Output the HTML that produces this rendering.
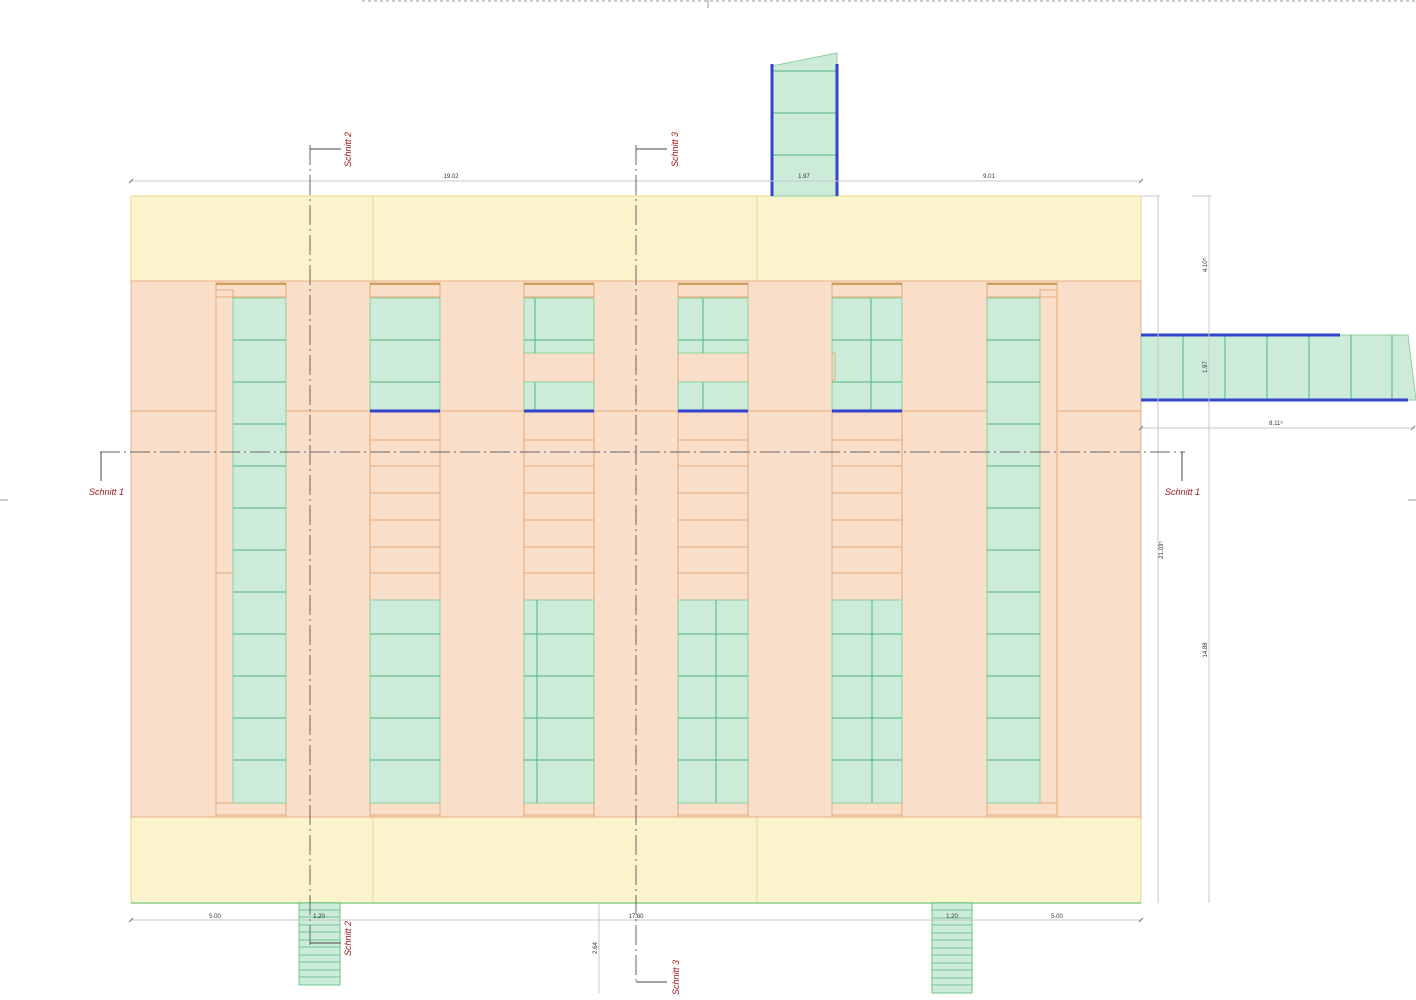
<!DOCTYPE html>
<html><head><meta charset="utf-8"><style>html,body{margin:0;padding:0;background:#fff}svg{display:block}</style></head><body>
<svg width="1416" height="1000" viewBox="0 0 1416 1000" xmlns="http://www.w3.org/2000/svg" font-family="Liberation Sans, sans-serif">
<line x1="362" y1="1" x2="1416" y2="1" stroke="#999" stroke-dasharray="3,3" stroke-width="1"/>
<line x1="708" y1="0" x2="708" y2="8" stroke="#999"/>
<line x1="0" y1="500" x2="8" y2="500" stroke="#999"/>
<line x1="1408" y1="500" x2="1416" y2="500" stroke="#999"/>

<g fill="#faf3cc" stroke="#ecd98a" stroke-width="1">
<rect x="131" y="196" width="1010" height="85"/>
<rect x="131" y="817" width="1010" height="86"/>
<line x1="373" y1="196" x2="373" y2="281"/><line x1="757" y1="196" x2="757" y2="281"/>
<line x1="373" y1="817" x2="373" y2="903"/><line x1="757" y1="817" x2="757" y2="903"/>
</g>
<line x1="131" y1="903" x2="1141" y2="903" stroke="#a9d9a0" stroke-width="2"/>
<rect x="131" y="281" width="1010" height="536" fill="#f9dfc9" stroke="#e8b088"/>
<line x1="131" y1="411" x2="1141" y2="411" stroke="#e8a878"/>

<g stroke="#e8a878" stroke-width="1" fill="#f9dfc9">
<rect x="216" y="283" width="70" height="534"/>
<rect x="370" y="283" width="70" height="534"/>
<rect x="524" y="283" width="70" height="534"/>
<rect x="678" y="283" width="70" height="534"/>
<rect x="832" y="283" width="70" height="534"/>
<rect x="987" y="283" width="70" height="534"/>
</g>
<g stroke="#c9a060" stroke-width="2">
<line x1="216" y1="284" x2="286" y2="284"/><line x1="370" y1="284" x2="440" y2="284"/><line x1="524" y1="284" x2="594" y2="284"/><line x1="678" y1="284" x2="748" y2="284"/><line x1="832" y1="284" x2="902" y2="284"/><line x1="987" y1="284" x2="1057" y2="284"/>
</g>
<g stroke="#e8a878" stroke-width="1">
<line x1="216" y1="297" x2="286" y2="297"/><line x1="370" y1="297" x2="440" y2="297"/><line x1="524" y1="297" x2="594" y2="297"/><line x1="678" y1="297" x2="748" y2="297"/><line x1="832" y1="297" x2="902" y2="297"/><line x1="987" y1="297" x2="1057" y2="297"/>
<line x1="216" y1="815" x2="286" y2="815"/><line x1="370" y1="815" x2="440" y2="815"/><line x1="524" y1="815" x2="594" y2="815"/><line x1="678" y1="815" x2="748" y2="815"/><line x1="832" y1="815" x2="902" y2="815"/><line x1="987" y1="815" x2="1057" y2="815"/>
<rect x="216" y="290" width="17" height="513" fill="none"/>
<line x1="216" y1="573" x2="233" y2="573"/>
<rect x="1040" y="290" width="17" height="513" fill="none"/>
<g id="tr">
<line x1="370" y1="440" x2="440" y2="440"/><line x1="370" y1="466" x2="440" y2="466"/><line x1="370" y1="493" x2="440" y2="493"/><line x1="370" y1="520" x2="440" y2="520"/><line x1="370" y1="547" x2="440" y2="547"/><line x1="370" y1="573" x2="440" y2="573"/>
</g>
<use href="#tr" x="154"/><use href="#tr" x="308"/><use href="#tr" x="462"/>
</g>

<g fill="#cdebd9" stroke="#8fcf9f" stroke-width="1">
<rect x="233" y="298" width="53" height="505"/>
<rect x="987" y="298" width="53" height="505"/>
<rect x="370" y="298" width="70" height="113"/>
<rect x="524" y="298" width="70" height="55"/><rect x="524" y="382" width="70" height="29"/>
<rect x="678" y="298" width="70" height="55"/><rect x="678" y="382" width="70" height="29"/>
<rect x="832" y="298" width="70" height="113"/>
<rect x="370" y="600" width="70" height="203"/>
<rect x="524" y="600" width="70" height="203"/>
<rect x="678" y="600" width="70" height="203"/>
<rect x="832" y="600" width="70" height="203"/>
</g>
<rect x="832" y="353" width="3" height="27" fill="none" stroke="#e8a878"/>
<g stroke="#4fb57f" stroke-width="1">
<g id="b1"><line x1="233" y1="340" x2="286" y2="340"/><line x1="233" y1="382" x2="286" y2="382"/><line x1="233" y1="424" x2="286" y2="424"/><line x1="233" y1="466" x2="286" y2="466"/><line x1="233" y1="508" x2="286" y2="508"/><line x1="233" y1="550" x2="286" y2="550"/><line x1="233" y1="592" x2="286" y2="592"/><line x1="233" y1="634" x2="286" y2="634"/><line x1="233" y1="676" x2="286" y2="676"/><line x1="233" y1="718" x2="286" y2="718"/><line x1="233" y1="760" x2="286" y2="760"/></g>
<use href="#b1" x="754"/>
<line x1="370" y1="340" x2="440" y2="340"/><line x1="370" y1="382" x2="440" y2="382"/>
<line x1="524" y1="340" x2="594" y2="340"/><line x1="535" y1="298" x2="535" y2="353"/><line x1="535" y1="382" x2="535" y2="411"/>
<line x1="678" y1="340" x2="748" y2="340"/><line x1="703" y1="298" x2="703" y2="353"/><line x1="703" y1="382" x2="703" y2="411"/>
<line x1="832" y1="340" x2="902" y2="340"/><line x1="832" y1="382" x2="902" y2="382"/><line x1="871" y1="298" x2="871" y2="411"/>
<g id="lw"><line x1="370" y1="634" x2="440" y2="634"/><line x1="370" y1="676" x2="440" y2="676"/><line x1="370" y1="718" x2="440" y2="718"/><line x1="370" y1="760" x2="440" y2="760"/></g>
<use href="#lw" x="154"/><use href="#lw" x="308"/><use href="#lw" x="462"/>
<line x1="537" y1="600" x2="537" y2="803"/><line x1="716" y1="600" x2="716" y2="803"/><line x1="872" y1="600" x2="872" y2="803"/>
</g>
<g stroke="#3344cc" stroke-width="3">
<line x1="370" y1="411" x2="440" y2="411"/><line x1="524" y1="411" x2="594" y2="411"/><line x1="678" y1="411" x2="748" y2="411"/><line x1="832" y1="411" x2="902" y2="411"/>
</g>

<polygon points="772,66 837,53 837,196 772,196" fill="#cdebd9" stroke="#8fcf9f"/>
<g stroke="#4fb57f"><line x1="772" y1="71" x2="837" y2="71"/><line x1="772" y1="113" x2="837" y2="113"/><line x1="772" y1="155" x2="837" y2="155"/></g>
<g stroke="#3344cc" stroke-width="3"><line x1="772" y1="64" x2="772" y2="196"/><line x1="837" y1="64" x2="837" y2="196"/></g>

<polygon points="1141,335 1408,335 1416,400 1141,400" fill="#cdebd9" stroke="#8fcf9f"/>
<g stroke="#4fb57f"><line x1="1183" y1="335" x2="1183" y2="400"/><line x1="1225" y1="335" x2="1225" y2="400"/><line x1="1267" y1="335" x2="1267" y2="400"/><line x1="1309" y1="335" x2="1309" y2="400"/><line x1="1351" y1="335" x2="1351" y2="400"/><line x1="1392" y1="335" x2="1392" y2="400"/></g>
<g stroke="#3344cc" stroke-width="3"><line x1="1141" y1="335" x2="1340" y2="335"/><line x1="1141" y1="400" x2="1408" y2="400"/></g>

<rect x="299" y="903" width="41" height="82" fill="#cdebd9" stroke="#6fc48f"/>
<rect x="932" y="903" width="40" height="90" fill="#cdebd9" stroke="#6fc48f"/>
<g stroke="#6fc48f">
<line x1="299" y1="910" x2="340" y2="910"/><line x1="299" y1="917" x2="340" y2="917"/><line x1="299" y1="925" x2="340" y2="925"/><line x1="299" y1="932" x2="340" y2="932"/><line x1="299" y1="940" x2="340" y2="940"/><line x1="299" y1="947" x2="340" y2="947"/><line x1="299" y1="955" x2="340" y2="955"/><line x1="299" y1="962" x2="340" y2="962"/><line x1="299" y1="970" x2="340" y2="970"/><line x1="299" y1="977" x2="340" y2="977"/>
<line x1="932" y1="910" x2="972" y2="910"/><line x1="932" y1="918" x2="972" y2="918"/><line x1="932" y1="925" x2="972" y2="925"/><line x1="932" y1="933" x2="972" y2="933"/><line x1="932" y1="940" x2="972" y2="940"/><line x1="932" y1="948" x2="972" y2="948"/><line x1="932" y1="955" x2="972" y2="955"/><line x1="932" y1="963" x2="972" y2="963"/><line x1="932" y1="970" x2="972" y2="970"/><line x1="932" y1="978" x2="972" y2="978"/><line x1="932" y1="985" x2="972" y2="985"/>
</g>

<g stroke="#c8c8c8" stroke-width="1">
<line x1="131" y1="181" x2="1141" y2="181"/>
<line x1="131" y1="920" x2="1141" y2="920"/>
<line x1="1141" y1="428" x2="1413" y2="428"/>
<line x1="1158" y1="196" x2="1158" y2="903"/>
<line x1="1141" y1="196" x2="1160" y2="196"/>
<line x1="1209" y1="196" x2="1209" y2="903"/>
<line x1="1192" y1="196" x2="1212" y2="196"/>
<line x1="599" y1="903" x2="599" y2="993"/>
</g>
<g stroke="#777" stroke-width="1">
<line x1="129" y1="183" x2="133" y2="179"/><line x1="1139" y1="183" x2="1143" y2="179"/>
<line x1="129" y1="922" x2="133" y2="918"/><line x1="1139" y1="922" x2="1143" y2="918"/>
<line x1="1139" y1="430" x2="1143" y2="426"/><line x1="1411" y1="430" x2="1415" y2="426"/>
</g>
<g font-size="6" fill="#333" text-anchor="middle">
<text x="451" y="178">19.02</text>
<text x="804" y="178">1.97</text>
<text x="989" y="178">9.01</text>
<text x="215" y="918">5.00</text>
<text x="319" y="918">1.20</text>
<text x="636" y="918">17.60</text>
<text x="952" y="918">1.20</text>
<text x="1057" y="918">5.00</text>
<text x="1276" y="425">8.11⁵</text>
<text transform="translate(1163,550) rotate(-90)">21.03⁵</text>
<text transform="translate(1207,265) rotate(-90)">4.10⁵</text>
<text transform="translate(1207,367) rotate(-90)">1.97</text>
<text transform="translate(1207,650) rotate(-90)">14.88</text>
<text transform="translate(597,948) rotate(-90)">2.64</text>
</g>

<g stroke="#666" stroke-width="1" stroke-dasharray="20,4,2,4" fill="none">
<line x1="310" y1="145" x2="310" y2="945"/>
<line x1="636" y1="145" x2="636" y2="985"/>
<line x1="100" y1="452" x2="1185" y2="452"/>
</g>
<g stroke="#444" stroke-width="1">
<line x1="310" y1="149" x2="341" y2="149"/><line x1="636" y1="149" x2="667" y2="149"/>
<line x1="310" y1="943" x2="341" y2="943"/><line x1="636" y1="982" x2="667" y2="982"/>
<line x1="101" y1="452" x2="101" y2="481"/><line x1="1182" y1="452" x2="1182" y2="481"/>
</g>
<g fill="#a01818" font-size="9" font-style="italic">
<text transform="translate(351,167) rotate(-90)">Schnitt 2</text>
<text transform="translate(678,167) rotate(-90)">Schnitt 3</text>
<text transform="translate(351,956) rotate(-90)">Schnitt 2</text>
<text transform="translate(679,995) rotate(-90)">Schnitt 3</text>
<text x="89" y="495">Schnitt 1</text>
<text x="1165" y="495">Schnitt 1</text>
</g>
</svg>
</body></html>
